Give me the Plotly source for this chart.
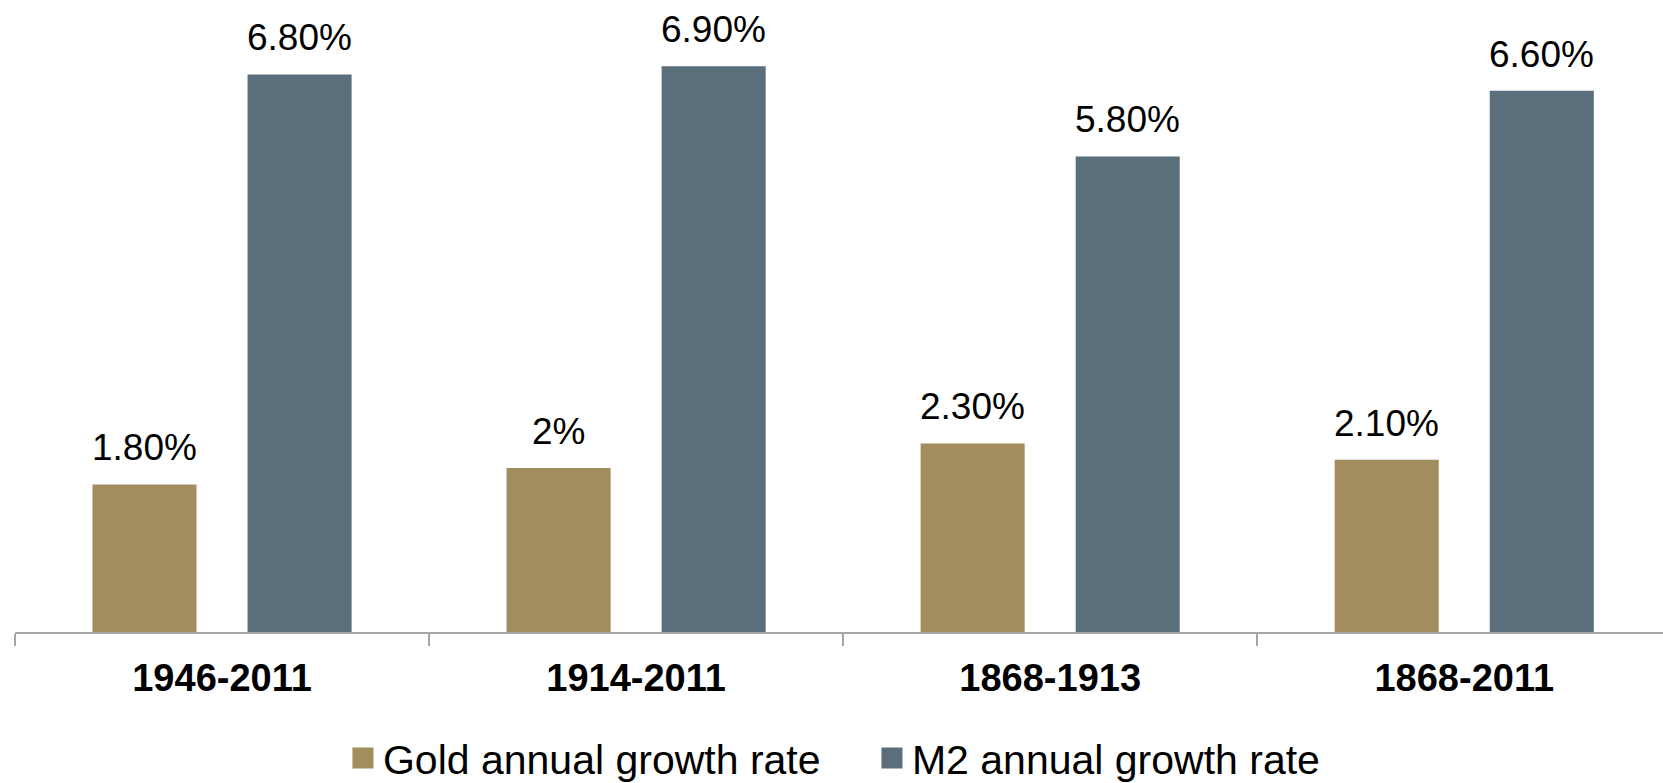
import plotly.graph_objects as go

categories = ["1946-2011", "1914-2011", "1868-1913", "1868-2011"]
gold = [1.8, 2.0, 2.3, 2.1]
m2 = [6.8, 6.9, 5.8, 6.6]
gold_labels = ["1.80%", "2%", "2.30%", "2.10%"]
m2_labels = ["6.80%", "6.90%", "5.80%", "6.60%"]
series_names = ["Gold annual growth rate", "M2 annual growth rate"]

GOLD = "#A28D5E"
BLUE = "#5B6E7C"
FONT = "Liberation Sans, Arial, sans-serif"

fig = go.Figure()
fig.add_trace(go.Bar(x=categories, y=gold, marker=dict(color=GOLD, line=dict(width=0)),
                     name=series_names[0], showlegend=False))
fig.add_trace(go.Bar(x=categories, y=m2, marker=dict(color=BLUE, line=dict(width=0)),
                     name=series_names[1], showlegend=False))
# legend entries
fig.add_trace(go.Scatter(x=[None], y=[None], mode="markers", name=series_names[0],
                         marker=dict(symbol="square", size=16, color=GOLD,
                                     line=dict(width=5, color=GOLD))))
fig.add_trace(go.Scatter(x=[None], y=[None], mode="markers", name=series_names[1],
                         marker=dict(symbol="square", size=16, color=BLUE,
                                     line=dict(width=5, color=BLUE))))

annotations = []
for cat, v, lab in zip(categories, gold, gold_labels):
    annotations.append(dict(x=cat, y=v, text=lab, showarrow=False, xshift=-77.5,
                            yanchor="bottom", yshift=14, font=dict(size=37, color="#000", family=FONT)))
for cat, v, lab in zip(categories, m2, m2_labels):
    annotations.append(dict(x=cat, y=v, text=lab, showarrow=False, xshift=77.5,
                            yanchor="bottom", yshift=14, font=dict(size=37, color="#000", family=FONT)))

fig.update_layout(
    width=1663, height=783,
    margin=dict(l=15, r=0, t=0, b=151, autoexpand=False),
    paper_bgcolor="white", plot_bgcolor="white",
    barmode="group", bargap=0.251, bargroupgap=0.329,
    font=dict(family=FONT, color="#000"),
    annotations=annotations,
    showlegend=True,
    legend=dict(orientation="h", x=0.520, xanchor="center", y=-0.200, yanchor="middle",
                font=dict(size=41, family=FONT, color="#000"), itemsizing="trace",
                entrywidth=484, entrywidthmode="pixels",
                traceorder="normal", bgcolor="rgba(0,0,0,0)"),
)
fig.update_xaxes(type="category", range=[-0.5, 3.48], showline=True, linecolor="#A6A6A6",
                 linewidth=1.5, ticks="outside", tickson="boundaries", ticklen=12,
                 tickcolor="#A6A6A6", tickwidth=1.5, showgrid=False, zeroline=False,
                 automargin=False, ticklabelstandoff=12,
                 tickfont=dict(size=38, family=FONT, color="#000", weight="bold"))
fig.update_yaxes(range=[0, 632 / 82.0], visible=False, showgrid=False, zeroline=False,
                 automargin=False)

fig.write_html("out.html", config={"displayModeBar": False},
               post_script="document.body.style.margin='0';document.body.style.overflow='hidden';")
